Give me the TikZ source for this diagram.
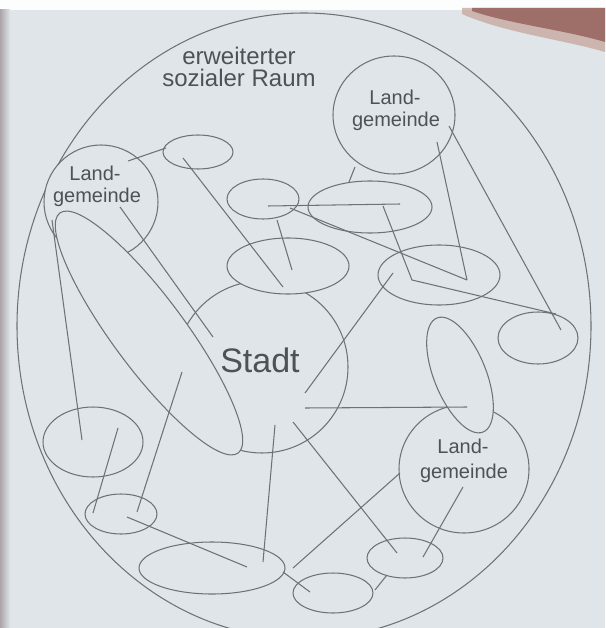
\documentclass[tikz,border=0pt]{standalone}
\usepackage{fontspec}
\setmainfont{Liberation Sans}
\usetikzlibrary{shapes.geometric}
\definecolor{page}{RGB}{223,229,232}
\definecolor{linec}{RGB}{110,114,118}
\definecolor{txt}{RGB}{78,82,86}
\definecolor{strip}{RGB}{170,164,170}
\definecolor{finger}{RGB}{150,100,92}
\definecolor{fingerlt}{RGB}{196,160,152}
\begin{document}
\begin{tikzpicture}[x=1pt,y=-1pt,
  shp/.style={ellipse, draw=linec, fill=page, line width=1.05pt, inner sep=0pt, outer sep=0pt},
  ln/.style={draw=linec, line width=1.05pt},
  lab/.style={text=txt, inner sep=0pt, anchor=base},
  small/.style={font=\fontsize{20}{20}\selectfont},
]
\useasboundingbox (0,0) rectangle (605,628);
\clip (0,0) rectangle (605,628);
% photographed page
\fill[page] (0,0) rectangle (605,628);
\fill[white!92!page] (0,0) rectangle (605,10);
\shade[left color=strip, right color=page] (0,10) rectangle (10,628);
\fill[fingerlt, opacity=0.7] (462,8) -- (605,8) -- (605,52) .. controls (565,40) and (505,33) .. (462,14) -- cycle;
\fill[finger, opacity=0.85] (472,8) -- (605,8) -- (605,42) .. controls (565,30) and (510,24) .. (472,11) -- cycle;

% outer space
\node[shp, fill=none, minimum width=574pt, minimum height=626pt] (outer) at (304,326) {};

% circles and ellipses
\node[shp, minimum width=122pt, minimum height=118pt] (lg1) at (394,115) {};
\node[shp, minimum width=114pt, minimum height=114pt] (lg2) at (101,202) {};
\node[shp, minimum width=130pt, minimum height=128pt] (lg3) at (464,469) {};
\node[shp, minimum width=172pt, minimum height=172pt] (stadt) at (262,367) {};
\node[shp, minimum width=70pt, minimum height=34pt] (e1) at (198,152) {};
\node[shp, minimum width=72pt, minimum height=40pt] (e2) at (263,199) {};
\node[shp, minimum width=124pt, minimum height=52pt] (e3) at (370,207) {};
\node[shp, minimum width=122pt, minimum height=56pt] (e4) at (288,266) {};
\node[shp, minimum width=122pt, minimum height=60pt] (e5) at (439,275) {};
\node[shp, minimum width=299pt, minimum height=72pt, rotate=-53.4] (el) at (149,333) {};
\node[shp, minimum width=123pt, minimum height=52pt, rotate=-68] (er) at (460,375) {};
\node[shp, minimum width=80pt, minimum height=52pt] (es) at (538,338) {};
\node[shp, minimum width=100pt, minimum height=70pt] (ebl) at (93,442) {};
\node[shp, minimum width=72pt, minimum height=40pt] (esm) at (121,514) {};
\node[shp, minimum width=146pt, minimum height=52pt] (elg) at (212,568) {};
\node[shp, minimum width=80pt, minimum height=40pt] (ebot) at (333,593) {};
\node[shp, minimum width=76pt, minimum height=40pt] (ebr) at (405,558) {};

% connector end points
\coordinate (a1) at (128,161);  \coordinate (b1) at (166,148);
\coordinate (a2) at (183,158);  \coordinate (b2) at (283,287);
\coordinate (a3) at (277,220);  \coordinate (b3) at (292,270);
\coordinate (a4) at (268,206);  \coordinate (b4) at (400,204);
\coordinate (a5) at (290,208);  \coordinate (b5) at (467,280);
\coordinate (a6) at (437,142);
\coordinate (a7) at (383,206);  \coordinate (m7) at (412,280); \coordinate (b7) at (556,314);
\coordinate (a8) at (449,126);  \coordinate (b8) at (561,330);
\coordinate (a9) at (355,167);  \coordinate (b9) at (349,182);
\coordinate (a10) at (393,273); \coordinate (b10) at (305,393);
\coordinate (a11) at (120,207); \coordinate (b11) at (213,337);
\coordinate (a12) at (52,220);  \coordinate (b12) at (82,440);
\coordinate (a13) at (182,372); \coordinate (b13) at (137,512);
\coordinate (a14) at (118,428); \coordinate (b14) at (93,513);
\coordinate (a15) at (127,517); \coordinate (b15) at (247,567);
\coordinate (a16) at (275,425); \coordinate (b16) at (263,562);
\coordinate (a17) at (305,408); \coordinate (b17) at (467,407);
\coordinate (a18) at (293,422); \coordinate (b18) at (397,553);
\coordinate (a19) at (400,473); \coordinate (b19) at (293,568);
\coordinate (a20) at (463,487); \coordinate (b20) at (423,557);
\coordinate (a21) at (283,572); \coordinate (b21) at (310,592);
\coordinate (a22) at (387,575); \coordinate (b22) at (375,590);

% connectors
\draw[ln] (a1) -- (b1);
\draw[ln] (a2) -- (b2);
\draw[ln] (a3) -- (b3);
\draw[ln] (a4) -- (b4);
\draw[ln] (a5) -- (b5);
\draw[ln] (a6) -- (b5);
\draw[ln] (a7) -- (m7) -- (b7);
\draw[ln] (a8) -- (b8);
\draw[ln] (a9) -- (b9);
\draw[ln] (a10) -- (b10);
\draw[ln] (a11) -- (b11);
\draw[ln] (a12) -- (b12);
\draw[ln] (a13) -- (b13);
\draw[ln] (a14) -- (b14);
\draw[ln] (a15) -- (b15);
\draw[ln] (a16) -- (b16);
\draw[ln] (a17) -- (b17);
\draw[ln] (a18) -- (b18);
\draw[ln] (a19) -- (b19);
\draw[ln] (a20) -- (b20);
\draw[ln] (a21) -- (b21);
\draw[ln] (a22) -- (b22);

% texts
\node[lab, font=\fontsize{24}{24}\selectfont] (t1) at (239,65) {erweiterter};
\node[lab, font=\fontsize{24}{24}\selectfont] (t2) at (239,87) {sozialer Raum};
\node[lab, small] (l1a) at (395,105) {Land-};
\node[lab, small] (l1b) at (396,127) {gemeinde};
\node[lab, small] (l2a) at (95,181) {Land-};
\node[lab, small] (l2b) at (97,203) {gemeinde};
\node[lab, small] (l3a) at (463,453) {Land-};
\node[lab, small] (l3b) at (464,478) {gemeinde};
\node[lab, font=\fontsize{34}{34}\selectfont] (st) at (260,372) {Stadt};
\end{tikzpicture}
\end{document}
